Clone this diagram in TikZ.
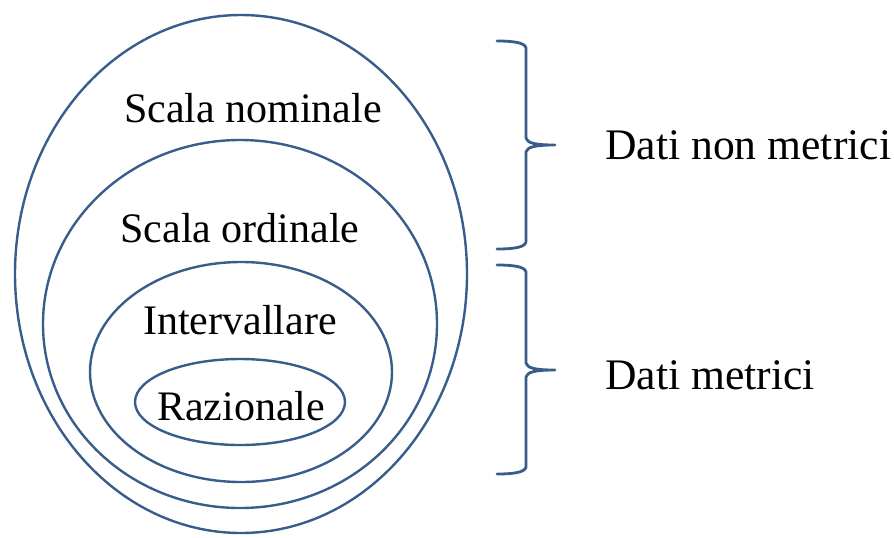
\documentclass[tikz,border=0pt]{standalone}
\usepackage{fontspec}
\setmainfont{Liberation Serif}
\definecolor{lineblue}{RGB}{56,93,138}
\tikzset{
  ell/.style={draw=lineblue, line width=1.2pt},
  brace/.style={draw=lineblue, line width=1.4pt, line cap=round, line join=round},
  lbl/.style={font=\fontsize{21}{25}\selectfont, inner sep=0pt},
  rlbl/.style={font=\fontsize{21.8}{26}\selectfont, inner sep=0pt, anchor=west},
}
\begin{document}
\begin{tikzpicture}[x=0.5pt,y=-0.5pt]
\useasboundingbox (0,0) rectangle (894,537);
\draw[ell] (241,274) ellipse [x radius=226, y radius=259];
\draw[ell] (240,324) ellipse [x radius=197, y radius=184];
\draw[ell] (241,372) ellipse [x radius=151, y radius=110];
\draw[ell] (240,402) ellipse [x radius=105, y radius=43];
\node[lbl] (nom) at (253,108) {Scala nominale};
\node[lbl] (ord) at (240,228) {Scala ordinale};
\node[lbl] (int) at (240,320) {Intervallare};
\node[lbl] (raz) at (241,406) {Razionale};
\node[rlbl] (nonmet) at (605,145) {Dati non metrici};
\node[rlbl] (met) at (605,375) {Dati metrici};
% braces
\draw[brace] (497,41) .. controls (515,41) and (525,43) .. (526,48)
  -- (526,138) .. controls (527,143) and (535,145) .. (555,145)
  .. controls (535,145) and (527,147) .. (526,152)
  -- (526,242) .. controls (525,247) and (515,249) .. (497,249);
\draw[brace] (497,265) .. controls (515,265) and (525,267) .. (526,272)
  -- (526,363) .. controls (527,368) and (535,370) .. (555,370)
  .. controls (535,370) and (527,372) .. (526,377)
  -- (526,467) .. controls (525,472) and (515,474) .. (497,474);
\end{tikzpicture}
\end{document}
